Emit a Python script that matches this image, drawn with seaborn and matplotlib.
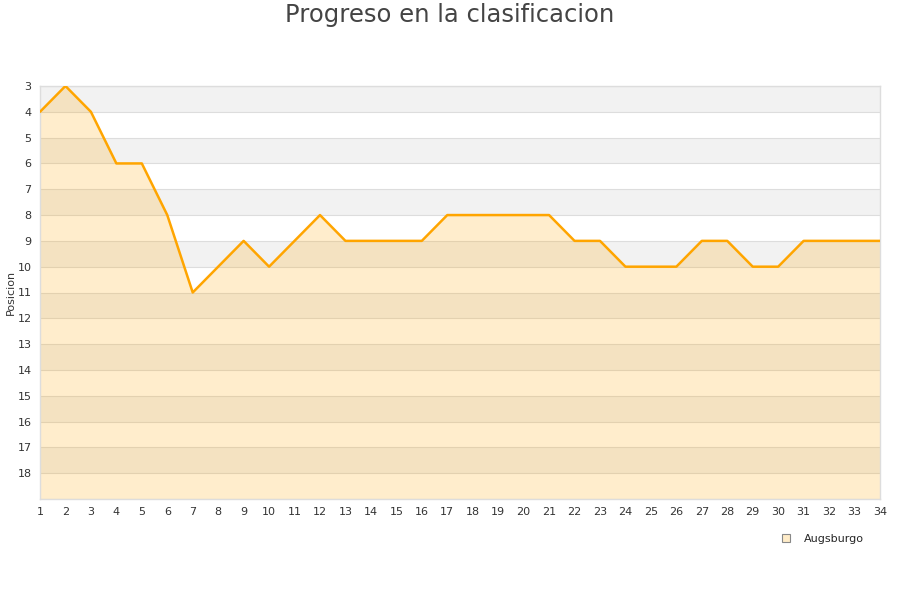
import matplotlib
matplotlib.use("Agg")
import matplotlib.pyplot as plt
import seaborn as sns
import pandas as pd

jornadas = list(range(1, 35))
posicion = [4, 3, 4, 6, 6, 8, 11, 10, 9, 10, 9, 8, 9, 9, 9, 9, 8, 8, 8, 8, 8,
            9, 9, 10, 10, 10, 9, 9, 10, 10, 9, 9, 9, 9]
equipo = "Augsburgo"
y_ticks = list(range(3, 19))

sns.set_theme(style="white")
plt.rcParams['font.family'] = ['DejaVu Sans']

df = pd.DataFrame({"Jornada": jornadas, "Posicion": posicion})

fig = plt.figure(figsize=(9, 6), dpi=100)
ax = fig.add_axes([40/900, 1-499/600, 840/900, 413/600])

# alternating bands
for y0 in range(3, 19, 2):
    ax.axhspan(y0, y0 + 1, color="#f2f2f2", zorder=0, lw=0)
for y in range(3, 20):
    ax.axhline(y, color="#dddddd", lw=0.8, zorder=0.5)

ax.fill_between(df["Jornada"], df["Posicion"], 19, color="#FFA500", alpha=0.2, lw=0, zorder=1)
sns.lineplot(data=df, x="Jornada", y="Posicion", ax=ax, color="#FFA500", lw=1.8, zorder=3)

ax.set_xlim(1, 34)
ax.set_ylim(19, 3)
ax.set_xticks(jornadas)
ax.set_yticks(y_ticks)
ax.tick_params(axis="both", labelsize=8, colors="#333333", length=0, pad=6)
ax.set_xlabel("")
ax.set_ylabel("Posicion", fontsize=8, color="#333333", labelpad=1)
for s in ax.spines.values():
    s.set_color("#dddddd")
    s.set_linewidth(1)

fig.suptitle("Progreso en la clasificacion", y=0.995, fontsize=17.5, color="#444444")

from matplotlib.lines import Line2D
h = Line2D([], [], marker="s", ls="", markersize=6, markerfacecolor="#ffecc8", markeredgecolor="#888888", markeredgewidth=0.8)
fig.legend([h], [equipo], loc="center", bbox_to_anchor=(819/900, 1-539/600), frameon=False, fontsize=8, handletextpad=0.6)

fig.savefig("out.png", dpi=100)
